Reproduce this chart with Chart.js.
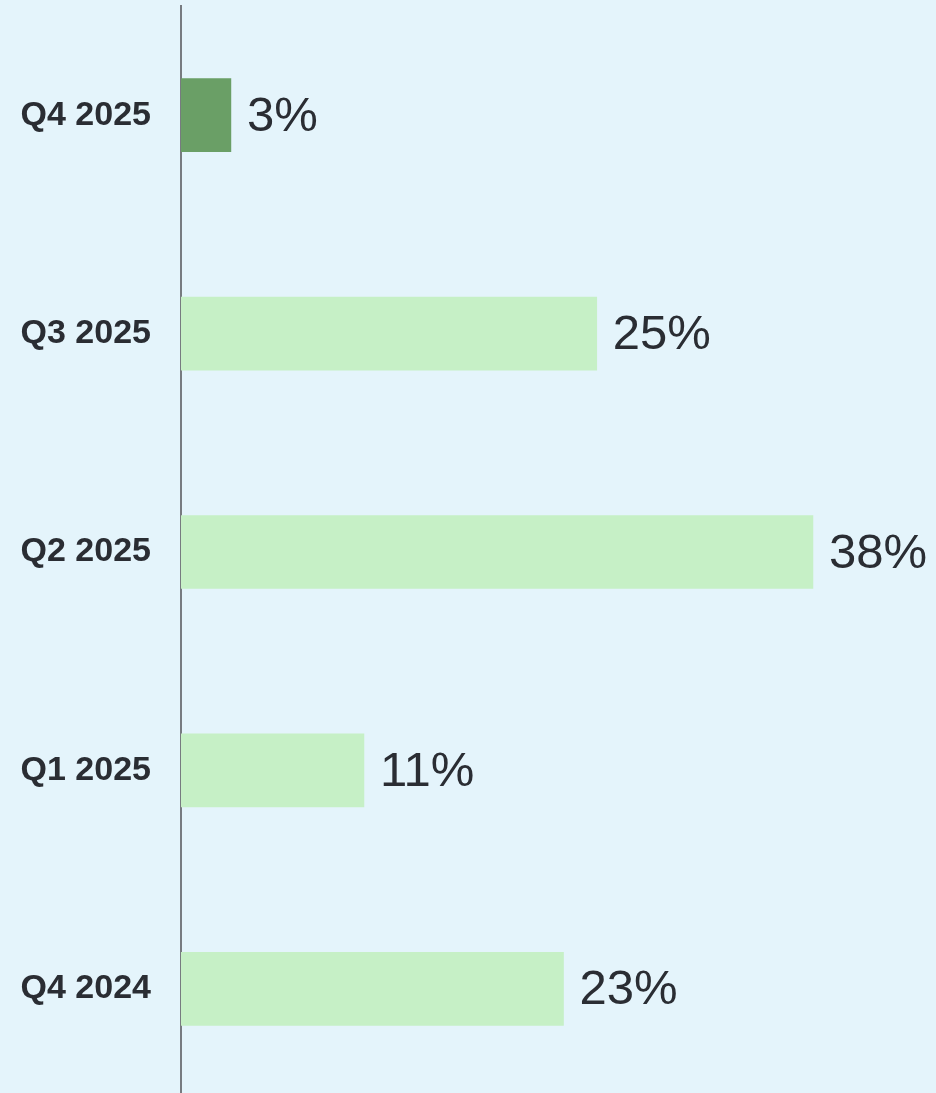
<!DOCTYPE html>
<html>
<head>
<meta charset="utf-8">
<script src="https://cdn.jsdelivr.net/npm/chart.js@4"></script>
<style>
    html, body { margin: 0; padding: 0; background: #e4f4fb; overflow: hidden; }
    .wrap { width: 936px; height: 1100px; position: relative; }
</style>
</head>
<body>
<div class="wrap"><canvas id="barChart"></canvas></div>
<script>
// Veri
const categories = ['Q4 2025', 'Q3 2025', 'Q2 2025', 'Q1 2025', 'Q4 2024'];
const values = [3, 25, 38, 11, 23];
const barColors = ['#6a9f66', '#c6f0c6', '#c6f0c6', '#c6f0c6', '#c6f0c6'];

// Bar sonuna yüzde etiketi
const valueLabels = {
    id: 'valueLabels',
    afterDatasetsDraw(chart) {
        const ctx = chart.ctx;
        const meta = chart.getDatasetMeta(0);
        ctx.save();
        ctx.font = '49px "Liberation Sans", Arial, sans-serif';
        ctx.fillStyle = '#2a2d33';
        ctx.textAlign = 'left';
        ctx.textBaseline = 'middle';
        meta.data.forEach((bar, i) => {
            ctx.fillText(values[i] + '%', bar.x + 16, bar.y + 2);
        });
        ctx.restore();
    }
};

new Chart(document.getElementById('barChart'), {
    type: 'bar',
    data: {
        labels: categories,
        datasets: [{
            data: values,
            backgroundColor: barColors,
            borderWidth: 0,
            barThickness: 73
        }]
    },
    options: {
        indexAxis: 'y',
        responsive: true,
        maintainAspectRatio: false,
        animation: false,
        layout: { padding: { top: 6, bottom: 2, left: 0, right: 0 } },
        plugins: { legend: { display: false }, tooltip: { enabled: false } },
        scales: {
            x: {
                display: false,
                min: 0,
                max: 45.4
            },
            y: {
                grid: { display: false, drawTicks: false },
                border: { display: true, color: '#777b80', width: 2 },
                ticks: {
                    padding: 30,
                    color: '#2a2d33',
                    font: { family: '"Liberation Sans", Arial, sans-serif', size: 34, weight: 'bold' }
                },
                afterFit(scale) {
                    scale.width = 181;
                    scale.paddingTop = 0;
                    scale.paddingBottom = 0;
                }
            }
        }
    },
    plugins: [valueLabels]
});
</script>
</body>
</html>
